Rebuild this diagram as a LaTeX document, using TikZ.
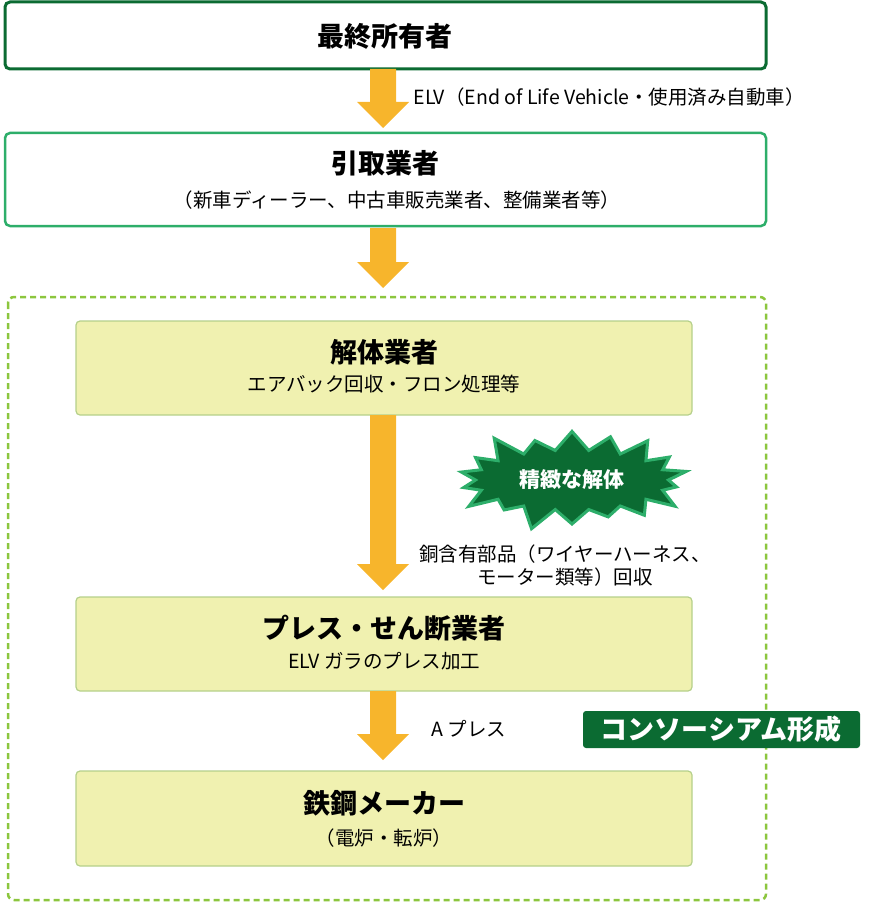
\documentclass[tikz,border=0pt]{standalone}
\usepackage{fontspec}
\setmainfont{Noto Sans CJK JP}
\usetikzlibrary{shapes.symbols}
\definecolor{dkgreen}{HTML}{0B6B32}
\definecolor{mdgreen}{HTML}{2DAE6A}
\definecolor{ltgreen}{HTML}{8CC63E}
\definecolor{boxfill}{HTML}{F0F1B0}
\definecolor{boxline}{HTML}{B5D08A}
\definecolor{flow}{HTML}{F7B52C}
\begin{document}
\begin{tikzpicture}[x=1pt,y=-1pt]

  \tikzset{
    stagebox/.style={draw=boxline, fill=boxfill, line width=1.2pt, rounded corners=4pt},
    flowarrow/.style={fill=flow, draw=none},
    title/.style={font=\bfseries\fontsize{27}{30}\selectfont},
    sub/.style={font=\fontsize{19.5}{23}\selectfont},
  }
  % arrow macro: x, top, bottom
  \newcommand\flowdown[3]{%
    \fill[flowarrow] (#1-13,#2) -- (#1+13,#2) -- (#1+13,#3-26) -- (#1+26,#3-26)
      -- (#1,#3) -- (#1-26,#3-26) -- (#1-13,#3-26) -- cycle;}

  \useasboundingbox (0,0) rectangle (878,904);

  % outer boxes
  \draw[draw=dkgreen, line width=3pt, rounded corners=5pt] (5,2) rectangle (766,69);
  \node[title] (owner) at (385,36) {最終所有者};

  \draw[draw=mdgreen, line width=2.5pt, rounded corners=5pt] (5,133) rectangle (766,226);
  \node[title] (pickup) at (385,163) {引取業者};
  \node[sub] (pickupsub) at (397,200) {（新車ディーラー、中古車販売業者、整備業者等）};

  \flowdown{383}{69}{128}
  \node[sub, anchor=west] (elv) at (410,97) {ELV（End of Life Vehicle・使用済み自動車）};
  \flowdown{383}{228}{288}

  % consortium
  \draw[draw=ltgreen, line width=2.5pt, dashed, dash pattern=on 6pt off 4pt, rounded corners=6pt] (8,297) rectangle (766,900);

  \draw[stagebox] (76,321) rectangle (692,415);
  \node[title] (dismantle) at (384,352) {解体業者};
  \node[sub] (dismantlesub) at (384,384) {エアバック回収・フロン処理等};

  \flowdown{383}{415}{590}

  \node[starburst, starburst points=18, starburst point height=26pt, fill=dkgreen,
        draw=mdgreen, line width=3pt, minimum width=245pt, minimum height=112pt,
        text=white, font=\bfseries\fontsize{21}{24}\selectfont] (precise) at (572,480) {精緻な解体};

  \node[sub, align=center] (copper) at (565,566) {銅含有部品（ワイヤーハーネス、\\モーター類等）回収};

  \draw[stagebox] (76,597) rectangle (692,691);
  \node[title] (press) at (384,628) {プレス・せん断業者};
  \node[sub] (presssub) at (384,661) {ELV ガラのプレス加工};

  \flowdown{383}{691}{760}
  \node[sub, anchor=west] (apress) at (428,729) {A プレス};

  \fill[dkgreen, rounded corners=3pt] (583,711) rectangle (860,748);
  \node[text=white, font=\bfseries\fontsize{27}{30}\selectfont] (consortium) at (721,729) {コンソーシアム形成};

  \draw[stagebox] (76,771) rectangle (692,866);
  \node[title] (steel) at (384,803) {鉄鋼メーカー};
  \node[sub] (steelsub) at (384,838) {（電炉・転炉）};

\end{tikzpicture}
\end{document}
